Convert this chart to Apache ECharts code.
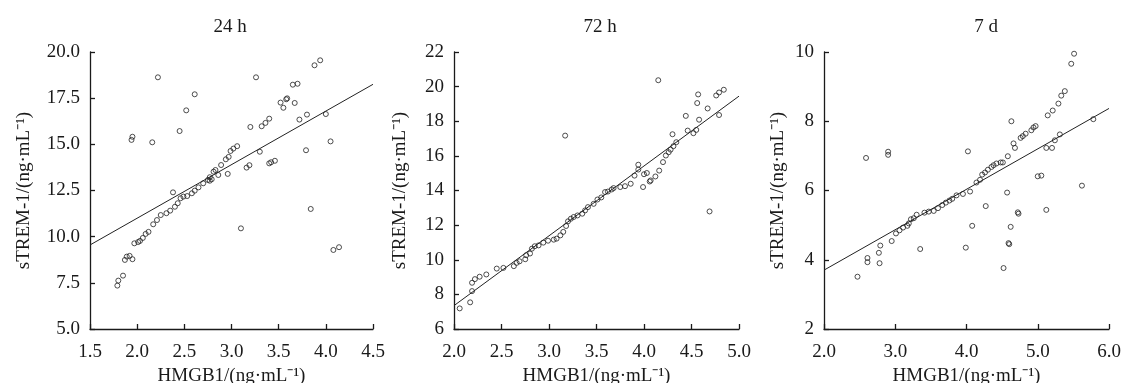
<!DOCTYPE html>
<html><head><meta charset="utf-8">
<script src="https://cdn.jsdelivr.net/npm/echarts@6/dist/echarts.min.js"></script>
<style>html,body{margin:0;padding:0;background:#fff}#c{width:1121px;height:383px}</style>
</head><body><div id="c"></div><script>
const titles = ['24 h', '72 h', '7 d'];
const xName = 'HMGB1/(ng·mL⁻¹)';
const yName = 'sTREM-1/(ng·mL⁻¹)';

const xMin = [1.5, 2, 2];
const xMax = [4.5, 5, 6];
const xStep = [0.5, 0.5, 1];
const yMin = [5, 6, 2];
const yMax = [20, 22, 10];
const yStep = [2.5, 2, 2];
const yDec = [1, 0, 0];

const d24 = [[1.79,7.35],[1.80,7.62],[1.85,7.89],[1.87,8.74],[1.89,8.92],[1.92,8.96],[1.95,8.78],[1.94,15.24],[1.95,15.41],[1.97,9.64],[2.01,9.71],[2.03,9.77],[2.06,9.93],[2.09,10.15],[2.12,10.26],[2.16,15.11],[2.17,10.67],[2.21,10.90],[2.22,18.63],[2.25,11.17],[2.31,11.27],[2.35,11.41],[2.38,12.40],[2.40,11.62],[2.43,11.81],[2.45,15.72],[2.46,12.08],[2.49,12.17],[2.52,16.84],[2.53,12.20],[2.58,12.35],[2.61,17.71],[2.61,12.49],[2.65,12.67],[2.70,12.89],[2.75,13.07],[2.77,13.03],[2.77,13.22],[2.79,13.11],[2.81,13.52],[2.83,13.61],[2.86,13.34],[2.89,13.88],[2.94,14.19],[2.96,13.40],[2.97,14.32],[2.99,14.64],[3.02,14.77],[3.06,14.90],[3.10,10.45],[3.16,13.74],[3.19,13.87],[3.20,15.94],[3.26,18.63],[3.30,14.60],[3.32,15.98],[3.36,16.16],[3.40,16.39],[3.40,13.97],[3.42,14.03],[3.46,14.11],[3.52,17.26],[3.55,16.98],[3.58,17.44],[3.59,17.49],[3.65,18.23],[3.67,17.24],[3.70,18.28],[3.72,16.34],[3.79,14.68],[3.80,16.61],[3.84,11.50],[3.88,19.28],[3.94,19.55],[4.00,16.64],[4.05,15.16],[4.08,9.28],[4.14,9.43]];
const d72 = [[2.06,7.19],[2.17,7.54],[2.19,8.19],[2.19,8.67],[2.22,8.88],[2.27,9.02],[2.34,9.15],[2.45,9.49],[2.52,9.53],[2.63,9.63],[2.66,9.82],[2.69,9.91],[2.75,10.03],[2.76,10.26],[2.80,10.36],[2.82,10.64],[2.85,10.78],[2.89,10.83],[2.94,10.99],[2.99,11.10],[3.05,11.16],[3.08,11.22],[3.12,11.41],[3.15,11.61],[3.17,17.17],[3.18,11.95],[3.20,12.22],[3.23,12.37],[3.26,12.47],[3.30,12.56],[3.35,12.66],[3.38,12.85],[3.41,13.04],[3.47,13.23],[3.51,13.48],[3.55,13.60],[3.59,13.91],[3.62,13.94],[3.66,14.06],[3.68,14.14],[3.75,14.20],[3.80,14.25],[3.86,14.39],[3.90,14.86],[3.94,15.21],[3.94,15.49],[3.99,14.20],[4.00,14.94],[4.03,15.01],[4.06,14.52],[4.07,14.58],[4.12,14.81],[4.15,20.37],[4.16,15.15],[4.20,15.64],[4.23,16.02],[4.26,16.21],[4.28,16.36],[4.30,17.25],[4.31,16.56],[4.34,16.79],[4.44,18.31],[4.46,17.46],[4.52,17.31],[4.55,17.50],[4.56,19.05],[4.57,19.55],[4.58,18.09],[4.67,18.74],[4.69,12.79],[4.76,19.49],[4.79,19.66],[4.79,18.36],[4.84,19.82]];
const d7 = [[2.47,3.51],[2.59,6.94],[2.61,4.05],[2.61,3.93],[2.77,4.20],[2.78,3.90],[2.79,4.41],[2.90,7.12],[2.90,7.03],[2.95,4.54],[3.01,4.76],[3.06,4.85],[3.11,4.93],[3.17,4.98],[3.19,5.05],[3.22,5.17],[3.26,5.20],[3.30,5.30],[3.35,4.31],[3.41,5.36],[3.47,5.39],[3.54,5.41],[3.60,5.49],[3.66,5.58],[3.71,5.65],[3.76,5.71],[3.80,5.76],[3.86,5.86],[3.95,5.90],[3.99,4.35],[4.02,7.13],[4.05,5.97],[4.08,4.98],[4.14,6.23],[4.19,6.31],[4.22,6.46],[4.26,6.52],[4.27,5.55],[4.30,6.60],[4.35,6.68],[4.38,6.73],[4.42,6.78],[4.48,6.81],[4.51,6.81],[4.52,3.76],[4.57,5.94],[4.58,6.99],[4.59,4.48],[4.60,4.45],[4.62,4.95],[4.63,8.00],[4.66,7.36],[4.68,7.23],[4.72,5.37],[4.73,5.33],[4.76,7.52],[4.79,7.57],[4.83,7.64],[4.91,7.74],[4.94,7.82],[4.97,7.86],[5.00,6.41],[5.05,6.43],[5.12,5.44],[5.12,7.23],[5.14,8.17],[5.20,7.23],[5.21,8.31],[5.24,7.45],[5.29,8.51],[5.31,7.62],[5.33,8.74],[5.38,8.87],[5.47,9.66],[5.51,9.95],[5.62,6.14],[5.78,8.06]];

const fit24 = [[1.5, 9.55], [4.5, 18.25]];
const fit72 = [[2.0, 7.35], [5.0, 19.45]];
const fit7 = [[2.0, 3.70], [6.0, 8.37]];

const datas = [d24, d72, d7];
const fits = [fit24, fit72, fit7];

const FONT = '"Liberation Serif", "Times New Roman", serif';
const INK = '#1a1a1a';
const FS = 19;
const gridLeft = [90, 454, 824];
const gridWidth = [283, 285, 285];
const titleX = [230, 600, 986];
const yNameGap = [56, 44, 36];

const grids = [], xAxes = [], yAxes = [], series = [], graphics = [];
for (let i = 0; i < 3; i++) {
  grids.push({ left: gridLeft[i], width: gridWidth[i], top: 52, height: 277, containLabel: false, outerBoundsMode: 'none' });
  xAxes.push({
    type: 'value', gridIndex: i, min: xMin[i], max: xMax[i], interval: xStep[i],
    name: xName, nameLocation: 'middle', nameGap: 35,
    nameTextStyle: { fontFamily: FONT, fontSize: FS, color: INK },
    axisLine: { show: true, onZero: false, lineStyle: { color: INK, width: 1.3 } },
    axisTick: { show: true, inside: true, length: 5, lineStyle: { color: INK, width: 1.3 } },
    axisLabel: { fontFamily: FONT, fontSize: FS, color: INK, margin: 14, formatter: v => v.toFixed(1) },
    splitLine: { show: false }
  });
  yAxes.push({
    type: 'value', gridIndex: i, min: yMin[i], max: yMax[i], interval: yStep[i],
    name: yName, nameLocation: 'middle', nameGap: yNameGap[i], nameRotate: 90,
    nameTextStyle: { fontFamily: FONT, fontSize: FS, color: INK },
    axisLine: { show: true, onZero: false, lineStyle: { color: INK, width: 1.3 } },
    axisTick: { show: true, inside: true, length: 5, lineStyle: { color: INK, width: 1.3 } },
    axisLabel: { fontFamily: FONT, fontSize: FS, color: INK, margin: 10, formatter: v => v.toFixed(yDec[i]) },
    splitLine: { show: false }
  });
  series.push({
    type: 'scatter', xAxisIndex: i, yAxisIndex: i, data: datas[i],
    symbol: 'circle', symbolSize: 5,
    itemStyle: { color: 'rgba(255,255,255,0)', borderColor: '#222', borderWidth: 1 },
    silent: true, z: 3
  });
  series.push({
    type: 'line', xAxisIndex: i, yAxisIndex: i, data: fits[i],
    showSymbol: false, symbol: 'none', lineStyle: { color: '#222', width: 1 },
    silent: true, z: 2
  });
  graphics.push({
    type: 'text', x: titleX[i], y: 27,
    style: { text: titles[i], font: FS + 'px ' + FONT, fill: INK, textAlign: 'center', textVerticalAlign: 'middle' }
  });
}

const chart = echarts.init(document.getElementById('c'), null, { renderer: 'canvas' });
chart.setOption({
  animation: false,
  backgroundColor: '#fff',
  grid: grids, xAxis: xAxes, yAxis: yAxes, series: series, graphic: graphics
});
</script></body></html>
